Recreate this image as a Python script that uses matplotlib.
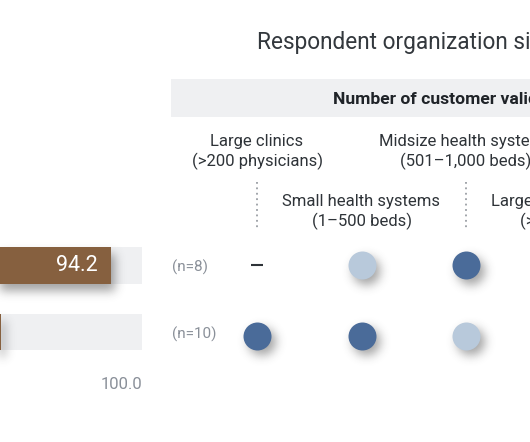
import matplotlib
matplotlib.use("Agg")
import matplotlib.pyplot as plt
import matplotlib.transforms as mtransforms
from matplotlib.patches import Rectangle
import numpy as np

plt.rcParams["font.family"] = ["Roboto", "DejaVu Sans"]

TITLE = "Respondent organization size"
HEADER = "Number of customer validations"
columns = [
    "Large clinics\n(>200 physicians)",
    "Small health systems\n(1–500 beds)",
    "Midsize health systems\n(501–1,000 beds)",
    "Large health systems\n(>1,000 beds)",
]
row_n = ["(n=8)", "(n=10)"]
bar_values = [94.2, 73.6]
axis_max = 100.0
# per row, per visible column: None = no data (dash), 1 = dark dot, 0 = light dot
dot_levels = [
    [None, 0, 1],
    [1, 1, 0],
]

C_BROWN = "#86603f"
C_TRACK = "#eff0f2"
C_DARK = "#4a6b99"
C_LIGHT = "#b8c9db"
C_TEXT = "#2e3338"
C_MUTED = "#8a9099"
C_DOTLINE = "#9a9ea4"

W, H = 530, 442
fig = plt.figure(figsize=(W / 100, H / 100), dpi=100)


def px_rect(left, top, right, bottom):
    return [left / W, 1 - bottom / H, (right - left) / W, (bottom - top) / H]


def clean(ax):
    ax.patch.set_visible(False)
    for s in ax.spines.values():
        s.set_visible(False)


# background layer: header band, title, column labels
ax_bg = fig.add_axes([0, 0, 1, 1], zorder=0)
ax_bg.set_xlim(0, W)
ax_bg.set_ylim(H, 0)
ax_bg.axis("off")
ax_bg.add_patch(Rectangle((171, 79), W, 38, color=C_TRACK, lw=0))
ax_bg.text(257, 42, TITLE, fontsize=16.3, color="#33383d", va="center")
ax_bg.text(333, 99, HEADER, fontsize=12.6, fontweight="bold", color="#1f2328", va="center")

# bars
bar_rect = px_rect(-392, 232.25, 142, 365.25)
ax_track = fig.add_axes(bar_rect, zorder=1)
ax_bar = fig.add_axes(bar_rect, zorder=2)
rows = np.arange(len(bar_values))
bar_h = 0.556
ax_track.barh(rows, [axis_max] * len(rows), height=bar_h, color=C_TRACK, lw=0)
ax_bar.barh(rows, bar_values, height=bar_h, color=C_BROWN, lw=0)
for ax in (ax_track, ax_bar):
    ax.set_xlim(0, axis_max)
    ax.set_ylim(len(rows) - 0.5, -0.5)
    clean(ax)
ax_track.axis("off")
ax_bar.set_yticks([])
ax_bar.set_xticks([axis_max], [f"{axis_max:.1f}"])
ax_bar.tick_params(axis="x", length=0, pad=8.5, labelsize=12, labelcolor=C_MUTED)
for lbl in ax_bar.get_xticklabels():
    lbl.set_ha("right")
for i, v in enumerate(bar_values):
    ax_bar.annotate(f"{v:.1f}", (v, i), xytext=(-9.5, 0), textcoords="offset points",
                    ha="right", va="center", color="white", fontsize=15.5, annotation_clip=False)

# n labels
blend_n = mtransforms.blended_transform_factory(ax_bg.transData, ax_bar.transData)
for i, lab in enumerate(row_n):
    ax_bar.text(172, i + 0.03, lab, transform=blend_n, ha="left", va="center",
                fontsize=11, color=C_MUTED, clip_on=False)

# dots
ax_dot = fig.add_axes(px_rect(204.75, 229.75, 622.75, 370.75), zorder=3)
ax_dot.set_xlim(-0.5, len(columns) - 0.5)
ax_dot.set_ylim(len(dot_levels) - 0.5, -0.5)
ax_dot.axis("off")
circles = []
for i, levels in enumerate(dot_levels):
    for j, lev in enumerate(levels):
        if lev is None:
            ax_dot.plot(j, i, marker="_", ms=9, mew=1.5, color=C_TEXT, clip_on=False)
        else:
            ax_dot.scatter(j, i, s=406, color=C_DARK if lev == 1 else C_LIGHT, lw=0, clip_on=False)
            circles.append((j, i))

# column labels and dotted connectors
blend_c = mtransforms.blended_transform_factory(ax_dot.transData, ax_bg.transData)
for j, lab in enumerate(columns):
    upper = j % 2 == 0
    ax_dot.text(j, 152 if upper else 212, lab, transform=blend_c, ha="center", va="center",
                fontsize=12, color=C_TEXT, linespacing=1.23, clip_on=False)
    if upper:
        ax_dot.plot([j, j], [182, 228], transform=blend_c, color=C_DOTLINE, lw=1.3,
                    ls=(0, (1, 2)), clip_on=False)

# soft drop shadows behind the bars and dots
ys, xs = np.mgrid[0:H, 0:W] + 0.5
mask = np.zeros((H, W))
r = 14
for (j, i) in circles:
    cx, cy = ax_dot.transData.transform((j, i))
    cy = H - cy
    mask[(xs - cx - 5) ** 2 + (ys - cy - 6) ** 2 <= r ** 2] = 1
for i, v in enumerate(bar_values):
    x0, y0 = ax_bar.transData.transform((0, i - bar_h / 2))
    x1, y1 = ax_bar.transData.transform((v, i + bar_h / 2))
    top, bot = sorted([H - y0, H - y1])
    mask[(xs >= x0 + 4) & (xs <= x1 + 4) & (ys >= top + 7) & (ys <= bot + 7)] = 1


def blur(a, sigma):
    rad = int(3 * sigma)
    k = np.exp(-0.5 * (np.arange(-rad, rad + 1) / sigma) ** 2)
    k /= k.sum()
    a = np.apply_along_axis(lambda m: np.convolve(m, k, mode="same"), 0, a)
    a = np.apply_along_axis(lambda m: np.convolve(m, k, mode="same"), 1, a)
    return a


shadow = np.zeros((H, W, 4))
shadow[..., :3] = 0.2
shadow[..., 3] = np.clip(0.45 * blur(mask, 5), 0, 1)
fig.figimage(shadow, 0, 0, origin="upper", zorder=1.5)

fig.savefig("out.png", dpi=100)
